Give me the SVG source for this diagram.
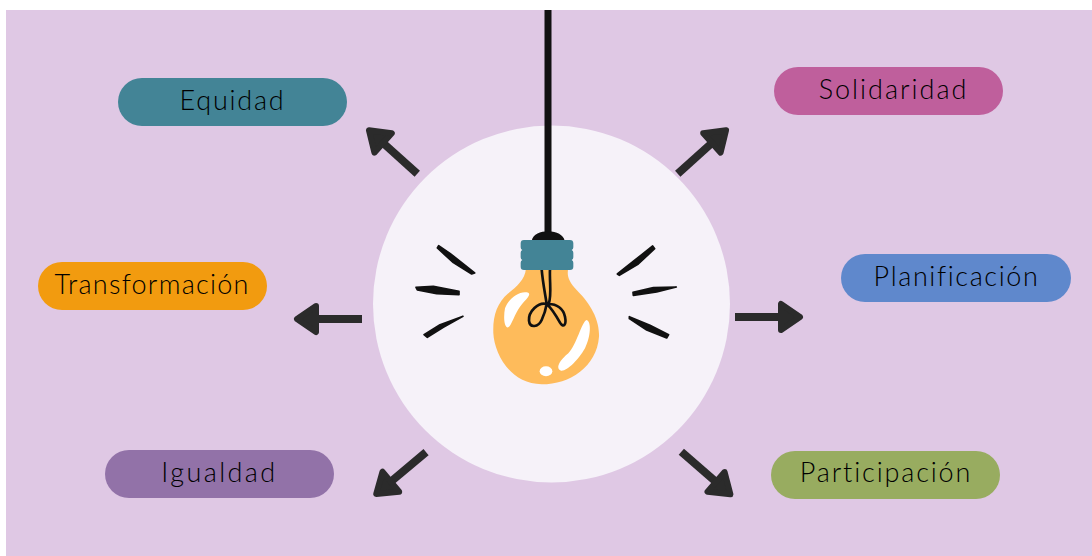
<svg xmlns="http://www.w3.org/2000/svg" width="1092" height="556" viewBox="0 0 1092 556">
<style>
.pill{stroke:none}
.lbl{font-family:"Lato","Liberation Sans",sans-serif;font-size:27px;font-weight:300;letter-spacing:1.3px;fill:#000;text-anchor:middle}
.arrow{fill:#2b2b2b;stroke:#2b2b2b;stroke-linejoin:round}
.stroke{fill:#111;stroke:#111;stroke-width:5;stroke-linejoin:round}
</style>
<defs>
<g id="arr"><path stroke="none" d="M-34 -4L14 -4L14 4L-34 4Z"/><path stroke-width="6" d="M31 0L12 -13L12 13Z"/></g>
</defs>
<rect width="1092" height="556" fill="#fff"/>
<rect x="6" y="10" width="1086" height="546" fill="#dfc8e4"/>
<circle id="hub" cx="551.500" cy="304" r="178.500" fill="#f6f2f9"/>
<g id="connectors" class="arrow">
<use href="#arr" transform="translate(392,151) rotate(222)"/>
<use href="#arr" transform="translate(703,151) rotate(-42)"/>
<use href="#arr" transform="translate(328,319) rotate(180)"/>
<use href="#arr" transform="translate(769,317)"/>
<use href="#arr" transform="translate(400,474) rotate(140)"/>
<use href="#arr" transform="translate(707,474) rotate(41)"/>
</g>
<g id="bulb">
<rect x="544.500" y="10" width="7" height="228" fill="#111"/>
<g transform="translate(400,200) scale(0.33333)">
<path d="M395 122C400 102 420 94 445 94C470 94 490 105 494 122Z" fill="#111"/>
<path d="M378 205C375 240 350 260 325 280C290 310 278 350 280 400C283 460 330 552 425 553C510 553 590 500 597 410C600 350 560 300 530 270C505 245 500 225 505 205Z" fill="#febb5b"/>
<path d="M385 278C395 285 375 300 360 320C345 340 335 375 325 382C312 385 310 350 315 325C325 295 360 270 385 278Z" fill="#fff"/>
<path d="M560 360C575 365 572 410 555 445C535 480 500 515 483 512C465 505 480 480 505 460C530 435 545 365 560 360Z" fill="#fff"/>
<ellipse cx="438" cy="514" rx="19" ry="15" fill="#fff"/>
<path d="M425 208C428 245 436 285 440 312C415 305 385 335 387 362C389 385 415 382 425 360C432 345 438 325 440 312C455 325 470 350 480 368C490 385 500 375 495 350C490 325 470 312 446 312C456 285 448 245 450 208" fill="none" stroke="#111" stroke-width="8"/>
<path d="M372 120H510Q520 120 520 130V142Q520 148 515 150Q520 152 520 158V172Q520 178 515 180Q520 182 520 188V200Q520 210 510 210H372Q362 210 362 200V188Q362 182 367 180Q362 178 362 172V158Q362 152 367 150Q362 148 362 142V130Q362 120 372 120Z" fill="#438496"/>
<g class="stroke">
<path d="M116 137L150 160L224 219L215 222L160 188L112 144Z"/>
<path d="M48 262L100 259L177 274L177 284L110 281L52 270Z"/>
<path d="M189 349L130 382L82 412L72 404L120 374Z"/>
<path d="M758 138L764 146L715 192L658 226L652 222L705 180Z"/>
<path d="M829 261L770 276L700 286L699 277L760 263Z"/>
<path d="M688 350L750 376L806 404L800 414L740 390L688 356Z"/>
</g>
</g>
</g>
<g id="n-equidad"><rect class="pill" x="118" y="78" width="229" height="48" rx="24" fill="#438496"/><text class="lbl" x="232.500" y="110" style="letter-spacing:1.8px">Equidad</text></g>
<g id="n-solidaridad"><rect class="pill" x="774" y="67" width="229" height="48" rx="24" fill="#bf5f9c"/><text class="lbl" x="893.500" y="99" style="letter-spacing:2px">Solidaridad</text></g>
<g id="n-transformacion"><rect class="pill" x="38" y="262" width="229" height="48" rx="24" fill="#f29b0f"/><text class="lbl" x="152" y="294" style="letter-spacing:1.25px">Transformación</text></g>
<g id="n-planificacion"><rect class="pill" x="841" y="254" width="230" height="48" rx="24" fill="#5f88cc"/><text class="lbl" x="956.500" y="286" style="letter-spacing:1.6px">Planificación</text></g>
<g id="n-igualdad"><rect class="pill" x="105" y="450" width="229" height="48" rx="24" fill="#9272a8"/><text class="lbl" x="219.500" y="482" style="letter-spacing:2.4px">Igualdad</text></g>
<g id="n-participacion"><rect class="pill" x="771" y="451" width="229" height="48" rx="24" fill="#98ac60"/><text class="lbl" x="886" y="482" style="letter-spacing:1.85px">Participación</text></g>
</svg>
